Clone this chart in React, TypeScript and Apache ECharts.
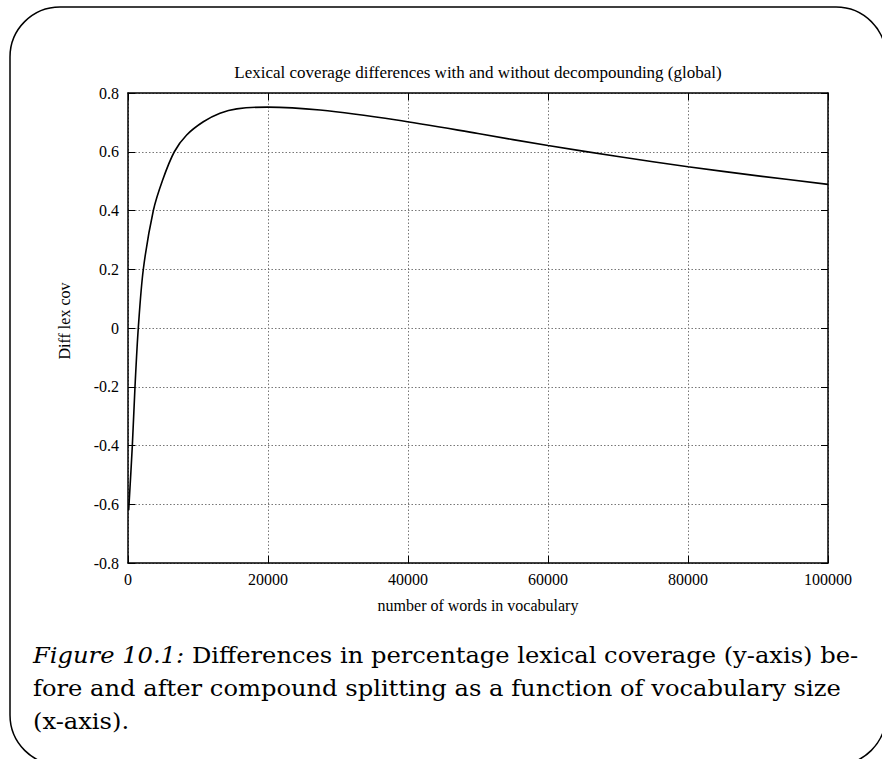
import React, { useEffect, useRef } from "react";
import * as echarts from "echarts";

const vocabSizes = [100, 620, 1000, 1470, 2190, 3620, 4950, 6620, 8380, 10760, 13140, 15530, 19950, 27430, 38390, 50000, 60000, 70000, 80000, 90000, 100000];
const lexCovDiff = [-0.62, -0.4, -0.2, 0, 0.2, 0.4, 0.504, 0.6, 0.657, 0.702, 0.731, 0.746, 0.752, 0.742, 0.708, 0.662, 0.621, 0.584, 0.549, 0.518, 0.489];

const chartTitle = "Lexical coverage differences with and without decompounding (global)";
const xName = "number of words in vocabulary";
const yName = "Diff lex cov";
const captionLines = [
  ["Figure 10.1:", " Differences in percentage lexical coverage (y-axis) be-"],
  ["", "fore and after compound splitting as a function of vocabulary size"],
  ["", "(x-axis)."],
];

export default function App() {
  const ref = useRef<HTMLDivElement>(null);
  useEffect(() => {
    if (!ref.current) return;
    const chart = echarts.init(ref.current, null, { renderer: "svg" });
    const serif = "Liberation Serif";
    const capFont = "DejaVu Serif";
    const data = vocabSizes.map((x, i) => [x, lexCovDiff[i]]);
    const baseX = {
      type: "value",
      min: 0,
      max: 100000,
      interval: 20000,
      axisLine: { onZero: false, lineStyle: { color: "#000", width: 1.5 } },
      axisTick: { inside: true, length: 7, lineStyle: { color: "#000", width: 1 } },
    };
    const baseY = {
      type: "value",
      min: -0.8,
      max: 0.8,
      interval: 0.2,
      axisLine: { onZero: false, lineStyle: { color: "#000", width: 1.5 } },
      axisTick: { inside: true, length: 7, lineStyle: { color: "#000", width: 1 } },
    };
    chart.setOption({
      animation: false,
      backgroundColor: "#fff",
      title: {
        text: chartTitle,
        left: 473,
        top: 59,
        textAlign: "center",
        textStyle: { fontFamily: serif, fontSize: 17, fontWeight: "normal", color: "#000" },
      },
      grid: { left: 128, right: 54, top: 93, bottom: 196 },
      xAxis: [
        {
          ...baseX,
          position: "bottom",
          name: xName,
          nameLocation: "middle",
          nameGap: 34,
          nameTextStyle: { fontFamily: serif, fontSize: 16, color: "#000" },
          axisLabel: { fontFamily: serif, fontSize: 16, color: "#000", margin: 8, formatter: (v: number) => String(v) },
          splitLine: { show: true, lineStyle: { color: "#777", type: [1.5, 2], width: 1 } },
        },
        {
          ...baseX,
          position: "top",
          axisLabel: { show: false },
          splitLine: { show: false },
        },
      ],
      yAxis: [
        {
          ...baseY,
          position: "left",
          name: yName,
          nameLocation: "middle",
          nameGap: 56,
          nameTextStyle: { fontFamily: serif, fontSize: 16, color: "#000", padding: [0, 0, 0, 14] },
          axisLabel: { fontFamily: serif, fontSize: 16, color: "#000", margin: 9 },
          splitLine: { show: true, lineStyle: { color: "#777", type: [1.5, 2], width: 1 } },
        },
        {
          ...baseY,
          position: "right",
          axisLabel: { show: false },
          splitLine: { show: false },
        },
      ],
      series: [
        {
          type: "line",
          data,
          showSymbol: false,
          smooth: 0.3,
          lineStyle: { color: "#000", width: 1.6 },
          itemStyle: { color: "#000" },
          xAxisIndex: 0,
          yAxisIndex: 0,
        },
      ],
      graphic: [
        {
          type: "rect",
          shape: { x: 10, y: 7, width: 876, height: 758, r: 50 },
          style: { fill: "none", stroke: "#000", lineWidth: 1.5 },
          silent: true,
        },
        ...captionLines.map((ln, i) => ({
          type: "text",
          x: 33,
          y: 644 + i * 33,
          scaleX: 1.1,
          style: {
            text: (ln[0] ? "{it|" + ln[0] + "}" : "") + "{rg|" + ln[1] + "}",
            rich: {
              it: { fontFamily: capFont, fontStyle: "italic", fontSize: 22, fill: "#000", fontWeight: "normal" },
              rg: { fontFamily: capFont, fontSize: 22, fill: "#000" },
            },
          },
        })),
      ],
    });
    return () => chart.dispose();
  }, []);
  return (
    <div
      ref={ref}
      style={{ position: "fixed", left: 0, top: 0, width: 882, height: 759 }}
    />
  );
}
